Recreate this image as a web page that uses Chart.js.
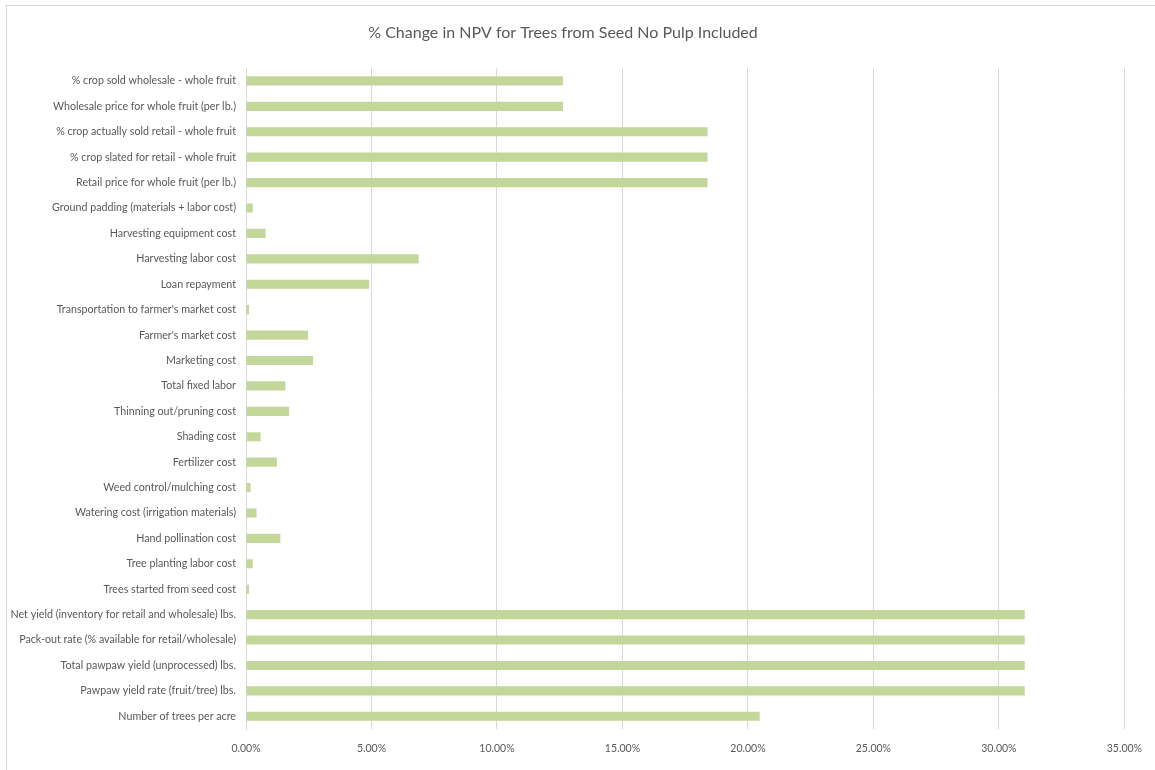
<!DOCTYPE html>
<html>
<head>
<meta charset="utf-8">
<script src="https://cdn.jsdelivr.net/npm/chart.js@4"></script>
<style>
  html, body { margin: 0; padding: 0; background: #fff; overflow: hidden; }
  #wrap { position: relative; width: 1155px; height: 770px; }
  #frame { position: absolute; left: 6px; top: 5px; width: 1200px; height: 800px; border: 1px solid #d9d9d9; }
  canvas { position: absolute; left: 0; top: 0; }
</style>
</head>
<body>
<div id="wrap">
  <div id="frame"></div>
  <canvas id="npvChart" width="1155" height="770"></canvas>
</div>
<script>
var categories = [
    '% crop sold wholesale - whole fruit',
    'Wholesale price for whole fruit (per lb.)',
    '% crop actually sold retail - whole fruit',
    '% crop slated for retail - whole fruit',
    'Retail price for whole fruit (per lb.)',
    'Ground padding (materials + labor cost)',
    'Harvesting equipment cost',
    'Harvesting labor cost',
    'Loan repayment',
    "Transportation to farmer's market cost",
    "Farmer's market cost",
    'Marketing cost',
    'Total fixed labor',
    'Thinning out/pruning cost',
    'Shading cost',
    'Fertilizer cost',
    'Weed control/mulching cost',
    'Watering cost (irrigation materials)',
    'Hand pollination cost',
    'Tree planting labor cost',
    'Trees started from seed cost',
    'Net yield (inventory for retail and wholesale) lbs.',
    'Pack-out rate (% available for retail/wholesale)',
    'Total pawpaw yield (unprocessed) lbs.',
    'Pawpaw yield rate (fruit/tree) lbs.',
    'Number of trees per acre'
];

// % change in NPV
var pctChange = [
    12.63, 12.63, 18.39, 18.39, 18.39,
    0.27, 0.78, 6.88, 4.91, 0.12,
    2.47, 2.67, 1.57, 1.72, 0.58,
    1.23, 0.18, 0.42, 1.37, 0.27,
    0.12, 31.03, 31.03, 31.03, 31.03,
    20.47
];

var xTicks = [0, 5, 10, 15, 20, 25, 30, 35];

var fontFamily = "Lato, 'Open Sans', sans-serif";

var ctx = document.getElementById('npvChart').getContext('2d');
var npvChart = new Chart(ctx, {
    type: 'bar',
    data: {
        labels: categories,
        datasets: [{
            label: '% Change in NPV',
            data: pctChange,
            backgroundColor: '#c4d79b',
            borderWidth: 0,
            categoryPercentage: 1.0,
            barPercentage: 0.36
        }]
    },
    options: {
        indexAxis: 'y',
        responsive: false,
        animation: false,
        layout: {
            padding: { left: 0, right: 29, top: 0, bottom: 0 }
        },
        plugins: {
            legend: { display: false },
            tooltip: { enabled: false },
            title: {
                display: true,
                text: '% Change in NPV for Trees from Seed No Pulp Included',
                color: '#595959',
                font: { family: fontFamily, size: 16, weight: 'normal' },
                padding: { top: 23, bottom: 26 }
            }
        },
        scales: {
            x: {
                min: 0,
                max: 35,
                afterBuildTicks: function (scale) {
                    scale.ticks = xTicks.map(function (v) { return { value: v }; });
                },
                afterFit: function (scale) { scale.height = 41; },
                grid: { color: '#d9d9d9', lineWidth: 1, drawTicks: false },
                border: { display: false },
                ticks: {
                    color: '#595959',
                    padding: 13,
                    maxRotation: 0,
                    font: { family: fontFamily, size: 10.5 },
                    callback: function (value) { return Number(value).toFixed(2) + '%'; }
                }
            },
            y: {
                afterFit: function (scale) { scale.width = 246; },
                grid: { display: false, drawTicks: false },
                border: { display: true, color: '#d9d9d9', width: 1 },
                ticks: {
                    color: '#595959',
                    padding: 10,
                    autoSkip: false,
                    font: { family: fontFamily, size: 10.7 }
                }
            }
        }
    }
});
</script>
</body>
</html>
